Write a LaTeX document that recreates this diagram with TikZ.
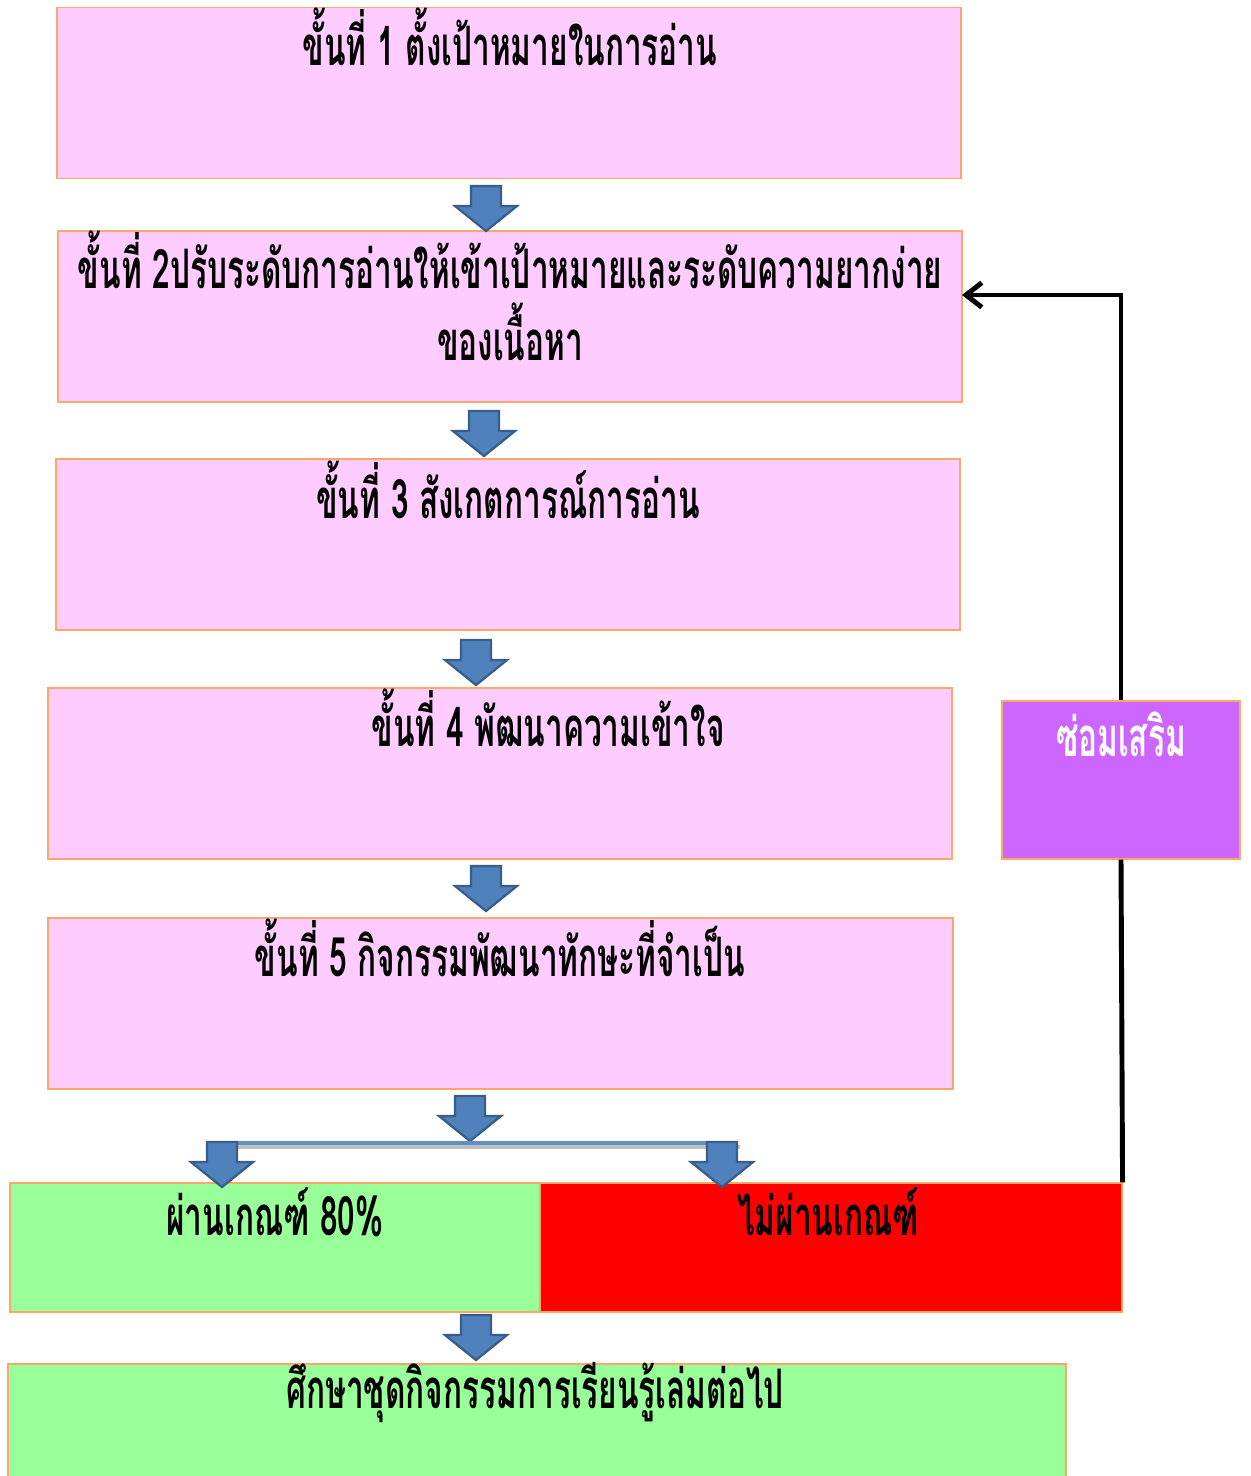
\documentclass[tikz,border=0pt]{standalone}
\usepackage{fontspec}
\newfontfamily\thaifont[Script=Thai,FakeStretch=0.58]{Loma}
\usetikzlibrary{arrows.meta}
\definecolor{steppink}{HTML}{FFCCFF}
\definecolor{boxedge}{HTML}{F9A86A}
\definecolor{passgreen}{HTML}{99FF99}
\definecolor{failred}{HTML}{FF0000}
\definecolor{repairpurple}{HTML}{CC66FF}
\definecolor{arrowblue}{HTML}{4F81BD}
\definecolor{arrowedge}{HTML}{385D8A}
\begin{document}
\begin{tikzpicture}[x=0.02cm,y=-0.02cm]
    % Stili
    \tikzstyle{stepbox}=[draw=boxedge, fill=steppink, line width=0.7pt, minimum width=18.08cm, minimum height=3.42cm, inner sep=0pt]
    \tikzstyle{resultbox}=[draw=boxedge, line width=0.7pt, minimum height=2.58cm, inner sep=0pt]
    \tikzstyle{steptext}=[font=\thaifont\bfseries\fontsize{31}{36}\selectfont, align=center, inner sep=0pt]
    \tikzstyle{feedback}=[line width=2.8pt, black]
    \tikzset{flowarrow/.pic={
        \path[fill=arrowblue, draw=arrowedge, line width=1.3pt, line join=miter]
            (-15,0) -- (-15,20) -- (-31,20) -- (0,45) -- (31,20) -- (15,20) -- (15,0) -- cycle;
    }}
    \useasboundingbox (0,0) rectangle (1250,1476);

    % Passi 1-5
    \node[stepbox] (step1) at (509,93) {};
    \node[steptext] (txt1) at (510,37) {ขั้นที่ 1 ตั้งเป้าหมายในการอ่าน};
    \node[stepbox] (step2) at (510,316.5) {};
    \node[steptext] (txt2) at (510,296) {ขั้นที่ 2ปรับระดับการอ่านให้เข้าเป้าหมายและระดับความยากง่าย\\[5pt]ของเนื้อหา};
    \node[stepbox] (step3) at (508,544.5) {};
    \node[steptext] (txt3) at (508,490) {ขั้นที่ 3 สังเกตการณ์การอ่าน};
    \node[stepbox] (step4) at (500,773.5) {};
    \node[steptext] (txt4) at (548,718) {ขั้นที่ 4 พัฒนาความเข้าใจ};
    \node[stepbox, minimum width=18.1cm] (step5) at (500.5,1003.5) {};
    \node[steptext] (txt5) at (500,948) {ขั้นที่ 5 กิจกรรมพัฒนาทักษะที่จำเป็น};

    % Risultato
    \node[resultbox, fill=passgreen, minimum width=10.6cm] (pass) at (275,1247.5) {};
    \node[steptext] (txtpass) at (275,1212) {ผ่านเกณฑ์ 80\%};
    \node[resultbox, fill=failred, minimum width=11.64cm] (fail) at (831,1247.5) {};
    \node[steptext] (txtfail) at (828,1212) {ไม่ผ่านเกณฑ์};
    \node[resultbox, fill=passgreen, minimum width=21.16cm, minimum height=2.28cm] (next) at (537,1421) {};
    \node[steptext] (txtnext) at (535,1393) {ศึกษาชุดกิจกรรมการเรียนรู้เล่มต่อไป};

    % Ripasso
    \node[resultbox, fill=repairpurple, minimum width=4.76cm, minimum height=3.16cm] (repair) at (1121,780) {};
    \node[steptext, text=white] (txtrepair) at (1121,734) {ซ่อมเสริม};

    % Frecce blu
    \pic (arr1) at (486,186) {flowarrow};
    \pic (arr2) at (484,411) {flowarrow};
    \pic (arr3) at (476,640) {flowarrow};
    \pic (arr4) at (486,866) {flowarrow};
    \pic (arr5) at (470,1096) {flowarrow};
    \draw[line width=2.8pt, black!25] (210,1147) -- (740,1147);
    \draw[line width=2.8pt, arrowblue!90!white] (208,1143) -- (738,1143);
    \pic (arr6) at (222,1142) {flowarrow};
    \pic (arr7) at (722,1142) {flowarrow};
    \pic (arr8) at (476,1315) {flowarrow};

    % Ritorno al passo 2
    \coordinate (back) at (962,295);
    \draw[feedback] (fail.north east) -- (repair.south);
    \draw[feedback, -{Straight Barb[length=9pt, width=14pt, line width=2.8pt]}] (repair.north) |- (back);
\end{tikzpicture}
\end{document}
